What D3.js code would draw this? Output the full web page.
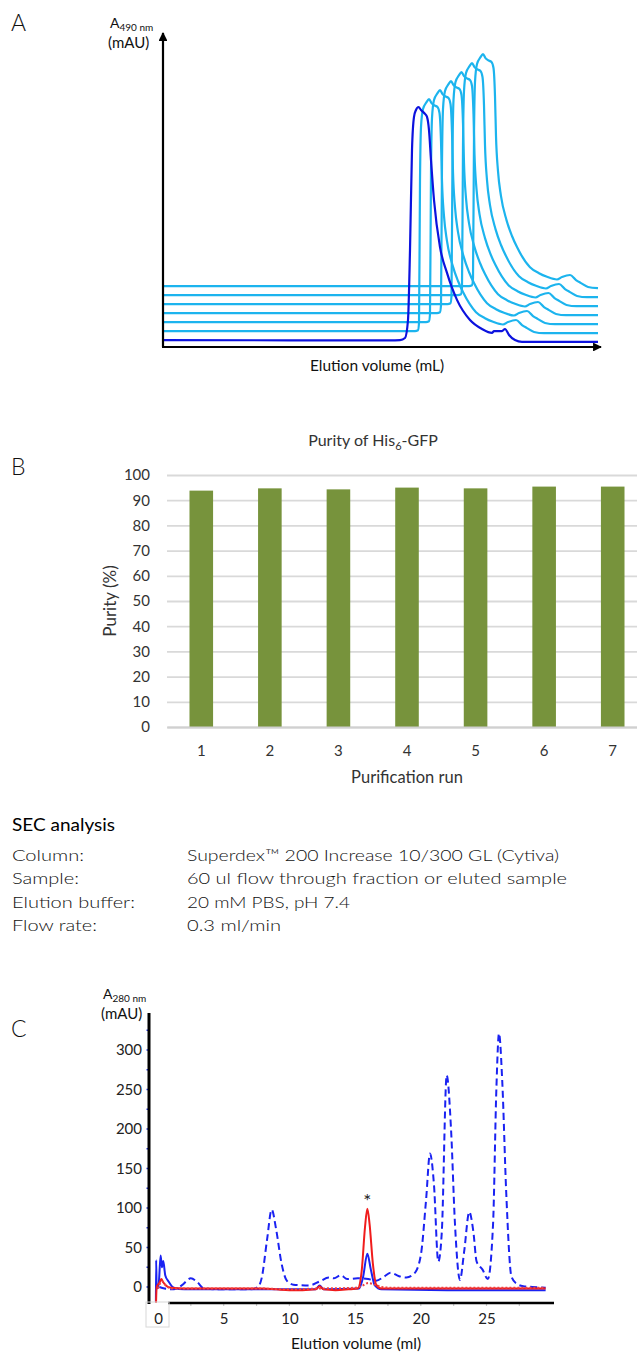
<!DOCTYPE html>
<html lang="en">
<head>
  <meta charset="UTF-8">
  <title>His6-GFP purification</title>
  <style>
    body { margin: 0; background: #fff; }
    svg { display: block; font-family: Lato, "Open Sans", sans-serif; }
  </style>
</head>
<body>
  <div class="figure"></div>
  <script src="https://cdnjs.cloudflare.com/ajax/libs/d3/7.8.5/d3.min.js"></script>
  <script>
    // ---- panel A: stacked A490 traces, one per purification run (arbitrary units) ----
    const traceRun1 = [[0,2.3],[45.4,2.2],[47.4,2.3],[48.4,3],[49,9],[49.4,32.3],[49.8,65.7],[50.2,76.7],[50.6,79],[51.1,80],[51.6,79],[52.4,77.7],[52.8,76.7],[53.2,72.3],[53.6,62.3],[54.2,49],[55.4,33.3],[56.8,24.7],[58.8,15.7],[61.4,9],[63.8,6],[65.8,4.7],[66.2,5.3],[67.8,5.3],[68.4,6],[69.2,4],[70.4,2.3],[71.8,1.7],[87,1.7]];
    const traceRun2 = [[0,5.3],[50.4,5.3],[51.0,5.6],[51.2,8.0],[51.4,55.3],[51.6,73.3],[52.0,79.3],[52.7,81.6],[53.2,82.6],[53.7,81.3],[54.2,80.6],[54.9,80.0],[55.3,78.0],[55.6,68.6],[55.8,55.3],[56.2,43.6],[56.8,35.3],[57.9,27.3],[59.0,22.0],[60.0,18.3],[62.6,11.6],[64.4,9.6],[66.0,8.4],[68.0,7.5],[69.0,8.3],[70.6,9.0],[71.8,7.3],[72.8,6.3],[74.2,5.0],[76.2,4.6],[87,4.6]];
    const traceRun3 = [[0,8.3],[52.6,8.3],[53.2,8.6],[53.4,11.0],[53.6,58.3],[53.8,76.3],[54.2,82.3],[54.9,84.6],[55.4,85.6],[55.9,84.3],[56.4,83.6],[57.1,83.0],[57.5,81.0],[57.8,71.6],[58.0,58.3],[58.4,46.6],[59.0,38.3],[60.1,30.3],[61.2,25.0],[62.2,21.3],[64.8,14.6],[66.6,12.6],[68.2,11.4],[70.2,10.5],[71.2,11.3],[72.8,12.0],[74.0,10.3],[75.0,9.3],[76.4,8.0],[78.4,7.6],[87,7.6]];
    const traceRun4 = [[0,11.3],[54.8,11.3],[55.4,11.6],[55.6,14.0],[55.8,61.3],[56.0,79.3],[56.4,85.3],[57.1,87.6],[57.6,88.6],[58.1,87.3],[58.6,86.6],[59.3,86.0],[59.7,84.0],[60.0,74.6],[60.2,61.3],[60.6,49.6],[61.2,41.3],[62.3,33.3],[63.4,28.0],[64.4,24.3],[67.0,17.6],[68.8,15.6],[70.4,14.4],[72.4,13.5],[73.4,14.3],[75.0,15.0],[76.2,13.3],[77.2,12.3],[78.6,11.0],[80.6,10.6],[87,10.6]];
    const traceRun5 = [[0,14.3],[56.9,14.3],[57.5,14.6],[57.7,17.0],[57.9,64.3],[58.1,82.3],[58.5,88.3],[59.2,90.6],[59.7,91.6],[60.2,90.3],[60.7,89.6],[61.4,89.0],[61.8,87.0],[62.1,77.6],[62.3,64.3],[62.7,52.6],[63.3,44.3],[64.4,36.3],[65.5,31.0],[66.5,27.3],[69.1,20.6],[70.9,18.6],[72.5,17.4],[74.5,16.5],[75.5,17.3],[77.1,18.0],[78.3,16.3],[79.3,15.3],[80.7,14.0],[82.7,13.6],[87,13.6]];
    const traceRun6 = [[0,17.3],[59.0,17.3],[59.6,17.6],[59.8,20.0],[60.0,67.3],[60.2,85.3],[60.6,91.3],[61.3,93.6],[61.8,94.6],[62.3,93.3],[62.8,92.6],[63.5,92.0],[63.9,90.0],[64.2,80.6],[64.4,67.3],[64.8,55.6],[65.4,47.3],[66.5,39.3],[67.6,34.0],[68.6,30.3],[71.2,23.6],[73.0,21.6],[74.6,20.4],[76.6,19.5],[77.6,20.3],[79.2,21.0],[80.4,19.3],[81.4,18.3],[82.8,17.0],[84.8,16.6],[87,16.6]];
    const traceRun7 = [[0,20.3],[61.2,20.3],[61.8,20.6],[62.0,23.0],[62.2,70.3],[62.4,88.3],[62.8,94.3],[63.5,96.6],[64.0,97.6],[64.5,96.3],[65.0,95.6],[65.7,95.0],[66.1,93.0],[66.4,83.6],[66.6,70.3],[67.0,58.6],[67.6,50.3],[68.7,42.3],[69.8,37.0],[70.8,33.3],[73.4,26.6],[75.2,24.6],[76.8,23.4],[78.8,22.5],[79.8,23.3],[81.4,24.0],[82.6,22.3],[83.6,21.3],[85.0,20.0],[87,19.6]];

    // ---- panel B: purity per run ----
    const runs = ['1', '2', '3', '4', '5', '6', '7'];
    const purity = [93.8, 94.7, 94.3, 95.0, 94.7, 95.4, 95.4];
    const purityTicks = [0, 10, 20, 30, 40, 50, 60, 70, 80, 90, 100];

    // ---- SEC method text ----
    const secLabels = ['Column:', 'Sample:', 'Elution buffer:', 'Flow rate:'];
    const secValues = ['Superdex\u2122 200 Increase 10/300 GL (Cytiva)', '60 ul flow through fraction or eluted sample', '20 mM PBS, pH 7.4', '0.3 ml/min'];

    // ---- panel C: SEC chromatograms, [ml, mAU] ----
    const flowThroughBlue = [[0.1,0],[0.5,-2],[1.2,-3],[1.8,2],[2.5,11],[3.0,6],[3.5,-2],[5,-3],[7,-3],[7.6,0],[7.9,12],[8.3,60],[8.65,98],[9.0,72],[9.4,30],[9.8,8],[10.3,3],[11.5,2],[12.3,7],[13.0,12],[13.4,11],[13.9,15],[14.4,10],[15.2,11],[16.0,10],[16.6,8],[17.2,13],[17.7,18],[18.3,14],[18.9,12],[19.5,17],[20.0,40],[20.4,110],[20.7,169],[21.0,130],[21.33,32],[21.6,70],[21.97,268],[22.3,200],[22.6,80],[22.98,9],[23.3,45],[23.69,95],[24.0,70],[24.25,32],[24.7,22],[25.1,10],[25.5,80],[25.75,250],[25.95,321],[26.2,260],[26.5,120],[26.9,13],[27.3,4],[27.8,1],[28.5,0],[29.5,-1]];
    const elutedBlue = [[-0.16,-19],[-0.14,34],[-0.1,-2],[0.05,3],[0.2,40],[0.3,25],[0.4,33],[0.55,15],[0.8,7],[1.2,-1],[2,-3],[8,-3],[12,-3],[12.3,2],[12.6,-3],[15.3,-2],[15.6,12],[15.93,42],[16.2,22],[16.5,2],[17,-3],[22,-4],[29.5,-4]];
    const elutedRed = [[-0.15,-20],[-0.1,0],[0.1,5],[0.25,10],[0.4,6],[0.6,2],[1.0,-1],[2,-2],[5,-2],[8,-2],[9,-3],[10,-4],[11,-4],[12,-3],[12.3,1],[12.6,-3],[13.5,-4],[14.5,-3],[15.2,-2],[15.5,20],[15.75,75],[15.93,99],[16.1,80],[16.35,30],[16.6,3],[17,-2],[20,-2],[25,-2],[29.5,-2]];
    const flowThroughRed = [[0,-2],[0.3,7],[0.6,2],[1,-2],[8,-2],[10,-3],[12,-2],[15,-1],[15.6,2],[16.0,5],[16.5,3],[17,0],[18,-1],[25,-1],[29.5,-1]];
    const secXTicks = [0, 5, 10, 15, 20, 25];
    const secYTicks = [0, 50, 100, 150, 200, 250, 300];

    // widths the method text is stretched to (layout only)
    const secLabelWidths = [72, 67, 123, 85];
    const secValueWidths = [372, 380, 163, 94];

    const svg = d3.select('.figure')
      .append('svg')
      .attr('width', 637)
      .attr('height', 1352);

    svg.append('defs').append('marker')
      .attr('id', 'arrow')
      .attr('viewBox', '0 0 10 10')
      .attr('refX', 9).attr('refY', 5)
      .attr('markerWidth', 4).attr('markerHeight', 4)
      .attr('markerUnits', 'strokeWidth')
      .attr('orient', 'auto')
      .append('path').attr('d', 'M0,0L10,5L0,10Z').attr('fill', '#000');

    const panelLetter = (x, y, t) => svg.append('text')
      .attr('x', x).attr('y', y).attr('font-size', 23).attr('font-weight', 300)
      .attr('fill', '#111').text(t);

    // absorbance label with subscript
    const absLabel = (x, y, sub) => {
      const t = svg.append('text').attr('x', x).attr('y', y).attr('font-size', 14).attr('fill', '#111');
      t.append('tspan').text('A');
      t.append('tspan').attr('font-size', 10).attr('dy', 3).text(sub);
      svg.append('text').attr('x', x - 2).attr('y', y + 20).attr('font-size', 15).attr('fill', '#111').text('(mAU)');
    };

    // ================= A =================
    panelLetter(11, 31, 'A');
    absLabel(110, 28, '490 nm');

    const xA = d3.scaleLinear().domain([0, 87]).range([163, 598]);
    const yA = d3.scaleLinear().domain([0, 100]).range([347, 47]);
    const lineA = d3.line().x(d => xA(d[0])).y(d => yA(d[1])).curve(d3.curveMonotoneX);

    const lightTraces = [traceRun2, traceRun3, traceRun4, traceRun5, traceRun6, traceRun7];
    svg.append('g').selectAll('path')
      .data(lightTraces.slice().reverse())
      .join('path')
      .attr('d', lineA)
      .attr('fill', 'none')
      .attr('stroke', '#1cb4ee')
      .attr('stroke-width', 2.2)
      .attr('stroke-linejoin', 'round');

    svg.append('path')
      .datum(traceRun1)
      .attr('d', lineA)
      .attr('fill', 'none')
      .attr('stroke', '#0c12de')
      .attr('stroke-width', 2.2)
      .attr('stroke-linejoin', 'round');

    svg.append('line')
      .attr('x1', xA(0)).attr('y1', yA(0)).attr('x2', xA(0)).attr('y2', 33)
      .attr('stroke', '#000').attr('stroke-width', 2.2).attr('marker-end', 'url(#arrow)');
    svg.append('line')
      .attr('x1', xA(0) - 1).attr('y1', yA(0)).attr('x2', 601).attr('y2', yA(0))
      .attr('stroke', '#000').attr('stroke-width', 2.2).attr('marker-end', 'url(#arrow)');

    svg.append('text')
      .attr('x', 377).attr('y', 371).attr('text-anchor', 'middle')
      .attr('font-size', 15.5).attr('fill', '#111')
      .text('Elution volume (mL)');

    // ================= B =================
    panelLetter(11, 475, 'B');

    const xB = d3.scaleBand().domain(runs).range([167, 647]).paddingInner(0.656).paddingOuter(0.328);
    const yB = d3.scaleLinear().domain([0, 100]).range([727, 475]);

    const title = svg.append('text')
      .attr('x', 373).attr('y', 446).attr('text-anchor', 'middle')
      .attr('font-size', 16).attr('fill', '#333');
    title.append('tspan').text('Purity of His');
    title.append('tspan').attr('font-size', 11).attr('dy', 4).text('6');
    title.append('tspan').attr('dy', -4).text('-GFP');

    svg.append('g')
      .attr('transform', 'translate(167,0)')
      .call(d3.axisLeft(yB).tickValues(purityTicks).tickSize(-480).tickPadding(17))
      .call(g => g.select('.domain').remove())
      .call(g => g.selectAll('.tick line').attr('stroke', '#d9d9d9').attr('stroke-width', 1.8))
      .call(g => g.selectAll('.tick text').attr('font-size', 15).attr('fill', '#333')
        .attr('font-family', 'Lato, sans-serif'));

    svg.append('g').selectAll('rect')
      .data(purity)
      .join('rect')
      .attr('x', (d, i) => xB(runs[i]))
      .attr('y', d => yB(d))
      .attr('width', xB.bandwidth())
      .attr('height', d => yB(0) - yB(d))
      .attr('fill', '#77933c');

    svg.append('g')
      .attr('transform', `translate(0,${yB(0)})`)
      .call(d3.axisBottom(xB).tickSize(0).tickPadding(18))
      .call(g => g.select('.domain').attr('stroke', '#d0d0d0').attr('stroke-width', 1.8))
      .call(g => g.selectAll('.tick text').attr('font-size', 15).attr('fill', '#333')
        .attr('font-family', 'Lato, sans-serif'));

    svg.append('text')
      .attr('x', 407).attr('y', 783).attr('text-anchor', 'middle')
      .attr('font-size', 16.5).attr('fill', '#333')
      .text('Purification run');

    svg.append('text')
      .attr('transform', 'translate(116,601) rotate(-90)')
      .attr('text-anchor', 'middle')
      .attr('font-size', 17).attr('fill', '#333')
      .text('Purity (%)');

    // ================= SEC method =================
    svg.append('text')
      .attr('x', 12).attr('y', 831)
      .attr('font-size', 17).attr('fill', '#000')
      .attr('textLength', 103).attr('lengthAdjust', 'spacingAndGlyphs')
      .text('SEC analysis');

    svg.append('g').selectAll('text')
      .data(secLabels)
      .join('text')
      .attr('x', 12).attr('y', (d, i) => 861 + i * 23.4)
      .attr('font-size', 16.5).attr('font-weight', 300).attr('fill', '#111')
      .attr('textLength', (d, i) => secLabelWidths[i]).attr('lengthAdjust', 'spacingAndGlyphs')
      .text(d => d);

    svg.append('g').selectAll('text')
      .data(secValues)
      .join('text')
      .attr('x', 187).attr('y', (d, i) => 861 + i * 23.4)
      .attr('font-size', 16.5).attr('font-weight', 300).attr('fill', '#111')
      .attr('textLength', (d, i) => secValueWidths[i]).attr('lengthAdjust', 'spacingAndGlyphs')
      .text(d => d);

    // ================= C =================
    panelLetter(11, 1037, 'C');
    absLabel(103, 999, '280 nm');

    const xC = d3.scaleLinear().domain([0, 30]).range([158, 552.2]);
    const yC = d3.scaleLinear().domain([0, 300]).range([1287, 1050]);
    const lineC = d3.line().x(d => xC(d[0])).y(d => yC(d[1])).curve(d3.curveMonotoneX);

    // y axis with small blue ticks
    svg.append('g')
      .attr('transform', 'translate(149,0)')
      .call(d3.axisLeft(yC).tickValues(secYTicks).tickSize(0).tickPadding(7))
      .call(g => g.select('.domain').remove())
      .call(g => g.selectAll('.tick text').attr('font-size', 15).attr('fill', '#222')
        .attr('font-family', 'Lato, sans-serif'));
    svg.append('g').selectAll('line')
      .data(d3.range(0, 326, 25))
      .join('line')
      .attr('x1', 146.5).attr('x2', 149)
      .attr('y1', d => yC(d)).attr('y2', d => yC(d))
      .attr('stroke', '#2030e0').attr('stroke-width', 1.5);

    // x axis: light grey minor ticks every 2.5 ml
    svg.append('g').selectAll('line')
      .data(d3.range(2.5, 30, 2.5))
      .join('line')
      .attr('x1', d => xC(d)).attr('x2', d => xC(d))
      .attr('y1', 1303).attr('y2', 1306)
      .attr('stroke', '#c8c8c8').attr('stroke-width', 1.2);

    svg.append('g')
      .attr('transform', 'translate(0,1303)')
      .call(d3.axisBottom(xC).tickValues(secXTicks).tickSize(0).tickPadding(10))
      .call(g => g.select('.domain').remove())
      .call(g => g.selectAll('.tick text').attr('font-size', 15).attr('fill', '#222')
        .attr('font-family', 'Lato, sans-serif'));

    svg.append('path').datum(flowThroughBlue).attr('d', lineC)
      .attr('fill', 'none').attr('stroke', '#1a22f2').attr('stroke-width', 2)
      .attr('stroke-dasharray', '7,4');
    svg.append('path').datum(elutedBlue).attr('d', lineC)
      .attr('fill', 'none').attr('stroke', '#1a22f2').attr('stroke-width', 2);
    svg.append('path').datum(elutedRed).attr('d', lineC)
      .attr('fill', 'none').attr('stroke', '#f01c1c').attr('stroke-width', 2);
    svg.append('path').datum(flowThroughRed).attr('d', lineC)
      .attr('fill', 'none').attr('stroke', '#f04040').attr('stroke-width', 2)
      .attr('stroke-dasharray', '2,2');

    // axis lines
    svg.append('line')
      .attr('x1', 149).attr('x2', 149).attr('y1', 1013).attr('y2', 1304)
      .attr('stroke', '#000').attr('stroke-width', 3);
    svg.append('line')
      .attr('x1', 168).attr('x2', 554).attr('y1', 1303).attr('y2', 1303)
      .attr('stroke', '#000').attr('stroke-width', 2.5);

    // light frame round the 0 label
    svg.append('rect')
      .attr('x', 146).attr('y', 1302).attr('width', 23).attr('height', 25)
      .attr('fill', 'none').attr('stroke', '#d8d8d8').attr('stroke-width', 1);

    svg.append('text')
      .attr('x', xC(15.93)).attr('y', 1208).attr('text-anchor', 'middle')
      .attr('font-size', 19).attr('fill', '#222').text('*');

    svg.append('text')
      .attr('x', 356).attr('y', 1349).attr('text-anchor', 'middle')
      .attr('font-size', 15.5).attr('fill', '#111')
      .text('Elution volume (ml)');
  </script>
</body>
</html>
